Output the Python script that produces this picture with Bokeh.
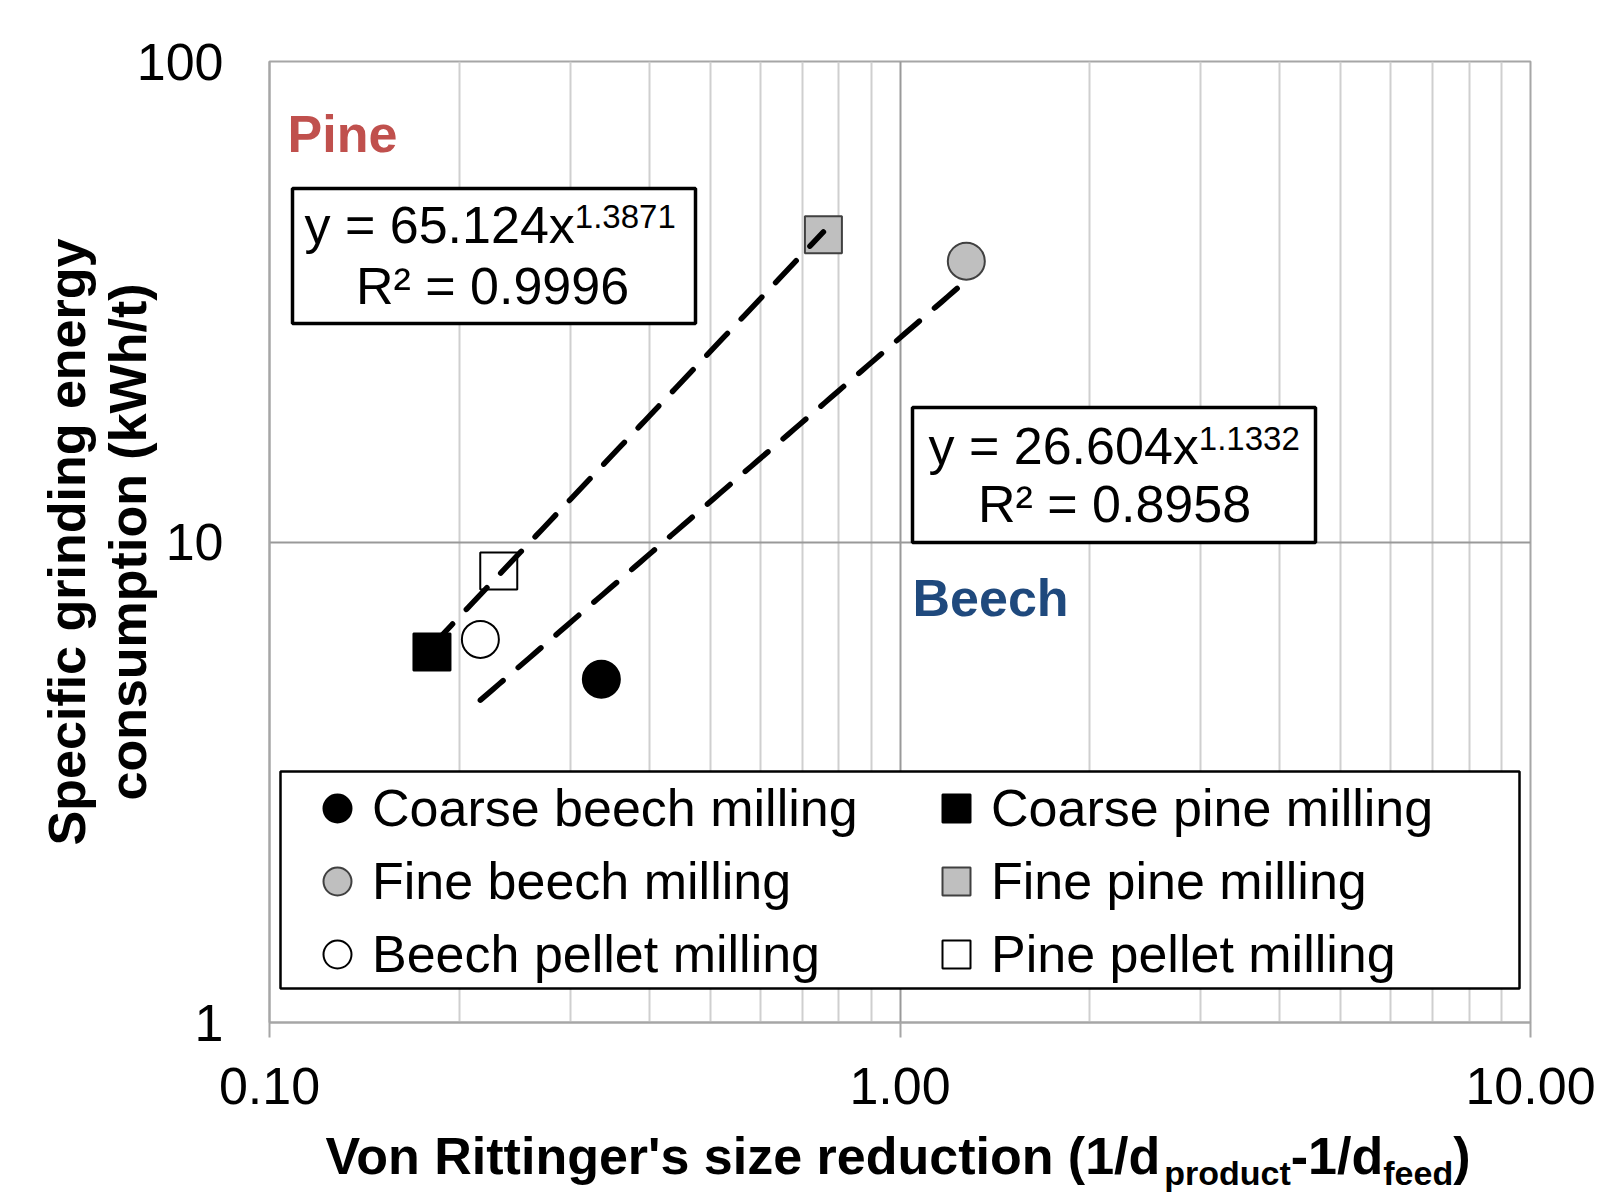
import numpy as np
from bokeh.plotting import figure
from bokeh.layouts import column
from bokeh.models import (FixedTicker, NumeralTickFormatter, Label, BoxAnnotation,
                          Legend, LegendItem, Range1d)
from bokeh.embed import file_html
from bokeh.resources import INLINE

# ---------------- data ----------------
series_names = ["Coarse beech milling", "Fine beech milling", "Beech pellet milling",
                "Coarse pine milling", "Fine pine milling", "Pine pellet milling"]
series_species = ["beech", "beech", "beech", "pine", "pine", "pine"]
size_reduction = [0.336, 1.274, 0.216, 0.181, 0.756, 0.231]      # 1/d_product - 1/d_feed
energy_kwh_t = [5.18, 38.4, 6.27, 5.90, 43.6, 8.70]               # kWh/t

pine_coef, pine_exp, pine_r2 = 65.124, 1.3871, 0.9996
beech_coef, beech_exp, beech_r2 = 26.604, 1.1332, 0.8958

x_ticks = [0.1, 1, 10]
x_tick_labels = ["0.10", "1.00", "10.00"]
x_minor_ticks = [0.2, 0.3, 0.4, 0.5, 0.6, 0.7, 0.8, 0.9, 2, 3, 4, 5, 6, 7, 8, 9]
y_ticks = [1, 10, 100]
y_tick_labels = ["1", "10", "100"]

x_title_parts = [("Von Rittinger's size reduction (1/d", False), ("product", True),
                 ("-1/d", False), ("feed", True), (")", False)]
y_title_lines = ["Specific grinding energy", "consumption (kWh/t)"]

# ---------------- layout helpers (page pixels) ----------------
FRAME_L, FRAME_R, FRAME_T, FRAME_B = 269, 1530, 61, 1022
W = 1596
H_MAIN = 1120
H_XT = 76
FIX = 0.37          # alphabetic-baseline correction (fraction of font size)

def sx(px):
    return px - FRAME_L
def sy(py, size=0):
    return FRAME_B - py + FIX * size

FONT = "Liberation Sans"
REG = {'y': 500, ' ': 278, '=': 584, '.': 278, 'x': 500}
BOLD = {' ': 278, "'": 238, '(': 333, ')': 333, '/': 278, '-': 333, '1': 556, 'V': 667,
        'R': 722, 'a': 556, 'c': 556, 'd': 611, 'e': 556, 'f': 333, 'g': 611, 'i': 278,
        'n': 611, 'o': 611, 'p': 611, 'r': 389, 's': 556, 't': 333, 'u': 611, 'z': 500}
def tw(s, size, table):
    return sum(table.get(ch, 556) for ch in s) * size / 1000.0

p = figure(width=W, height=H_MAIN, x_axis_type="log", y_axis_type="log",
           x_range=(0.1, 10), y_range=(1, 100), output_backend="svg",
           toolbar_location=None,
           min_border_left=FRAME_L, min_border_right=W - FRAME_R,
           min_border_top=FRAME_T, min_border_bottom=H_MAIN - FRAME_B)
p.background_fill_color = "white"
p.border_fill_color = "white"
p.outline_line_color = "#A6A6A6"
p.outline_line_width = 2

xt = FixedTicker(ticks=x_ticks, minor_ticks=x_minor_ticks)
yt = FixedTicker(ticks=y_ticks, minor_ticks=[])
p.xaxis.ticker = xt
p.yaxis.ticker = yt
p.xgrid.ticker = xt
p.ygrid.ticker = yt
p.xaxis.formatter = NumeralTickFormatter(format="0.00")
p.yaxis.formatter = NumeralTickFormatter(format="0")
p.xaxis.major_label_overrides = dict(zip(x_ticks, x_tick_labels))
p.yaxis.major_label_overrides = dict(zip(y_ticks, y_tick_labels))

for ax in (p.xaxis, p.yaxis):
    ax.axis_line_color = "#A6A6A6"
    ax.axis_line_width = 2
    ax.major_tick_line_color = "#A6A6A6"
    ax.major_tick_line_width = 2
    ax.minor_tick_out = 0
    ax.minor_tick_in = 0
    ax.major_tick_in = 0
    ax.major_label_text_font = FONT
    ax.major_label_text_font_size = "52px"
    ax.major_label_text_color = "black"
p.xaxis.major_tick_out = 15
p.xaxis.major_label_standoff = 30
p.yaxis.major_tick_out = 0
p.yaxis.major_label_standoff = 46

# two-line y-axis title
p.yaxis.axis_label = "\n".join(y_title_lines)
p.yaxis.axis_label_text_font = FONT
p.yaxis.axis_label_text_font_size = "52px"
p.yaxis.axis_label_text_font_style = "bold"
p.yaxis.axis_label_text_color = "black"
p.yaxis.axis_label_text_line_height = 1.05
p.yaxis.axis_label_standoff = -23

p.xgrid.grid_line_color = "#999999"
p.xgrid.grid_line_width = 2
p.xgrid.minor_grid_line_color = "#CFCFCF"
p.xgrid.minor_grid_line_width = 2
p.ygrid.grid_line_color = "#999999"
p.ygrid.grid_line_width = 2

# ---------------- markers ----------------
styles = {
    "Coarse": dict(fill_color="black", line_color="black"),
    "Fine": dict(fill_color="#BFBFBF", line_color="#404040"),
    "pellet": dict(fill_color="white", line_color="black"),
}
renderers = []
for name, sp, xv, yv in zip(series_names, series_species, size_reduction, energy_kwh_t):
    key = "Coarse" if name.startswith("Coarse") else ("Fine" if name.startswith("Fine") else "pellet")
    r = p.scatter(x=[xv], y=[yv], marker="circle" if sp == "beech" else "square",
                  size=37, line_width=2, **styles[key])
    renderers.append(r)

# ---------------- power-law trendlines ----------------
for sp, coef, expo in (("pine", pine_coef, pine_exp), ("beech", beech_coef, beech_exp)):
    xs_sp = [xv for xv, s in zip(size_reduction, series_species) if s == sp]
    xs = np.geomspace(min(xs_sp), max(xs_sp), 80)
    p.line(xs, coef * xs ** expo, line_color="black", line_width=5.5,
           line_dash="30 20", line_cap="round")

# ---------------- boxes ----------------
def box(l, r, t, b, lw):
    p.add_layout(BoxAnnotation(left=sx(l), right=sx(r), top=sy(t), bottom=sy(b),
                               left_units="screen", right_units="screen",
                               top_units="screen", bottom_units="screen",
                               fill_color="white", fill_alpha=1.0,
                               line_color="black", line_width=lw, line_alpha=1.0))

box(292, 695, 188, 323, 3.5)    # pine equation
box(912, 1315, 407, 542, 3.5)   # beech equation
box(280, 1519, 771, 988, 2.5)   # legend

# ---------------- legends ----------------
def make_legend(idx, left_px):
    lg = Legend(items=[LegendItem(label=series_names[i], renderers=[renderers[i]]) for i in idx],
                location=(sx(left_px), sy(989)), orientation="vertical",
                glyph_width=70, glyph_height=70, spacing=3, padding=0, margin=0,
                label_standoff=0, label_text_font=FONT, label_text_font_size="52px",
                label_text_color="black", border_line_color=None,
                background_fill_alpha=0.0)
    p.add_layout(lg, "center")

make_legend([0, 1, 2], 302)
make_legend([3, 4, 5], 921)

# ---------------- text inside the plot ----------------
def lab(x_px, base_px, text, size, bold=False, color="black", align="left"):
    p.add_layout(Label(x=sx(x_px), y=sy(base_px, size), x_units="screen", y_units="screen",
                       text=text, text_font=FONT, text_font_size=f"{size}px",
                       text_font_style="bold" if bold else "normal", text_color=color,
                       text_align=align, text_baseline="alphabetic"))

def equation(x_left, base_y, sup_y, center_x, base2_y, coef, expo, r2):
    main = f"y = {coef:.3f}x"
    lab(x_left, base_y, main, 52)
    lab(x_left + tw(main, 52, REG), sup_y, f"{expo:.4f}", 33)
    lab(center_x, base2_y, f"R² = {r2:.4f}", 52, align="center")

equation(304, 244, 228, 492, 305, pine_coef, pine_exp, pine_r2)
equation(928, 465, 450, 1114, 523, beech_coef, beech_exp, beech_r2)

lab(287, 153, "Pine", 52, bold=True, color="#C0504D")
lab(912, 617, "Beech", 52, bold=True, color="#1F497D")

# ---------------- x-axis title strip (subscripts) ----------------
# its frame is aligned with the main frame, so data x == page x
xt_fig = figure(width=W, height=H_XT, x_range=Range1d(FRAME_L, FRAME_R),
                y_range=Range1d(H_MAIN + H_XT, H_MAIN), output_backend="svg",
                toolbar_location=None, x_axis_location=None, y_axis_location=None,
                min_border_left=FRAME_L, min_border_right=W - FRAME_R,
                min_border_top=0, min_border_bottom=0, title=None)
xt_fig.outline_line_color = None
xt_fig.xgrid.visible = False
xt_fig.ygrid.visible = False
xt_fig.background_fill_color = "white"
xt_fig.border_fill_color = "white"

cx = 325
for txt, is_sub in x_title_parts:
    size = 34 if is_sub else 52
    base = 1185 if is_sub else 1175
    xt_fig.add_layout(Label(x=cx, y=base - FIX * size, text=txt, text_font=FONT,
                            text_font_size=f"{size}px", text_font_style="bold",
                            text_color="black", text_align="left",
                            text_baseline="alphabetic"))
    cx += tw(txt, size, BOLD)

layout = column(p, xt_fig, spacing=0)
open("out.html", "w").write(file_html(layout, INLINE))
